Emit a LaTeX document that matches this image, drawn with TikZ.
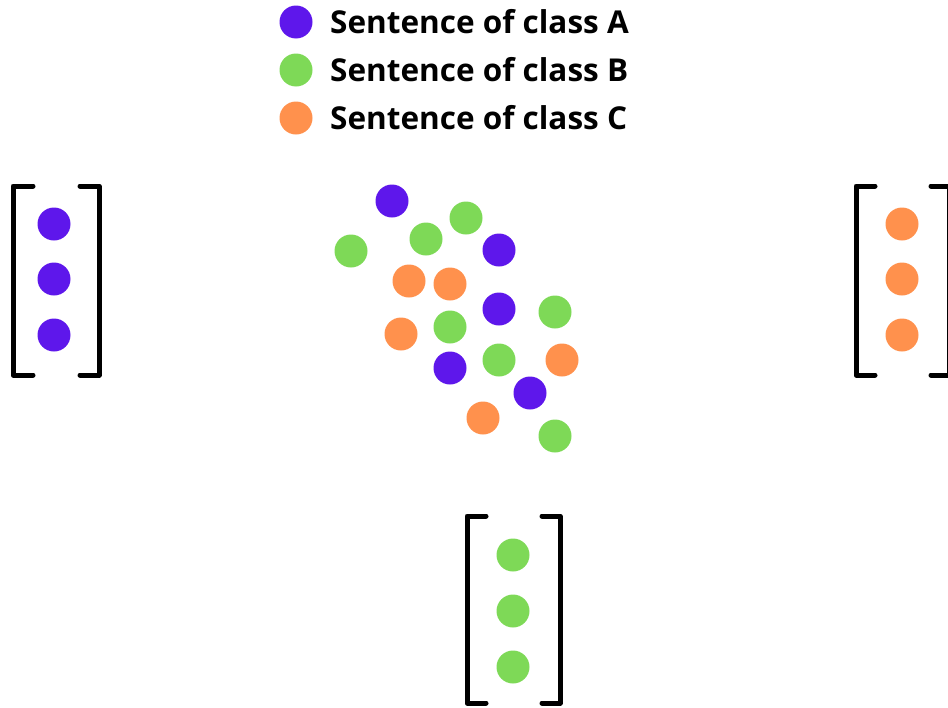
\documentclass[tikz,border=0pt]{standalone}
\usepackage{fontspec}
\setmainfont{Open Sans}
\definecolor{cA}{HTML}{5E17EB}
\definecolor{cB}{HTML}{7ED957}
\definecolor{cC}{HTML}{FF914D}
\begin{document}
\begin{tikzpicture}[x=1pt,y=-1pt,
  dot/.style={circle,inner sep=0pt,minimum size=33pt,fill=#1},
  legtext/.style={anchor=west,font=\bfseries\fontsize{31.5}{36}\selectfont,inner sep=0pt},
  brk/.style={line width=5pt,line cap=round,line join=round}]
\useasboundingbox (0,0) rectangle (948,707);
% legend
\node[dot=cA] (lA) at (296,22) {};
\node[dot=cB] (lB) at (296,70) {};
\node[dot=cC] (lC) at (296,118) {};
\node[legtext] (tA) at (330,22) {Sentence of class A};
\node[legtext] (tB) at (330,70) {Sentence of class B};
\node[legtext] (tC) at (330,118) {Sentence of class C};
% scatter
\node[dot=cA] (a1) at (392,201) {};
\node[dot=cA] (a2) at (499,250) {};
\node[dot=cA] (a3) at (499,309) {};
\node[dot=cA] (a4) at (450,368) {};
\node[dot=cA] (a5) at (530,393) {};
\node[dot=cB] (b1) at (351,251) {};
\node[dot=cB] (b2) at (426,239) {};
\node[dot=cB] (b3) at (466,218) {};
\node[dot=cB] (b4) at (555,312) {};
\node[dot=cB] (b5) at (450,327) {};
\node[dot=cB] (b6) at (499,360) {};
\node[dot=cB] (b7) at (555,436) {};
\node[dot=cC] (c1) at (409,281) {};
\node[dot=cC] (c2) at (450,284) {};
\node[dot=cC] (c3) at (401,334) {};
\node[dot=cC] (c4) at (562,360) {};
\node[dot=cC] (c5) at (483,418) {};
% left vector (class A)
\draw[brk] (33,186) -- (13,186) -- (13,375) -- (33,375);
\draw[brk] (80,186) -- (99,186) -- (99,375) -- (80,375);
\node[dot=cA] (va1) at (54,224) {};
\node[dot=cA] (va2) at (54,279) {};
\node[dot=cA] (va3) at (54,335) {};
% right vector (class C)
\draw[brk] (875,186) -- (856,186) -- (856,375) -- (875,375);
\draw[brk] (931,186) -- (949,186) -- (949,375) -- (931,375);
\node[dot=cC] (vc1) at (902,224) {};
\node[dot=cC] (vc2) at (902,279) {};
\node[dot=cC] (vc3) at (902,335) {};
% bottom vector (class B)
\draw[brk] (486,516) -- (467,516) -- (467,703) -- (486,703);
\draw[brk] (542,516) -- (560,516) -- (560,703) -- (542,703);
\node[dot=cB] (vb1) at (513,555) {};
\node[dot=cB] (vb2) at (513,611) {};
\node[dot=cB] (vb3) at (513,667) {};
\end{tikzpicture}
\end{document}
